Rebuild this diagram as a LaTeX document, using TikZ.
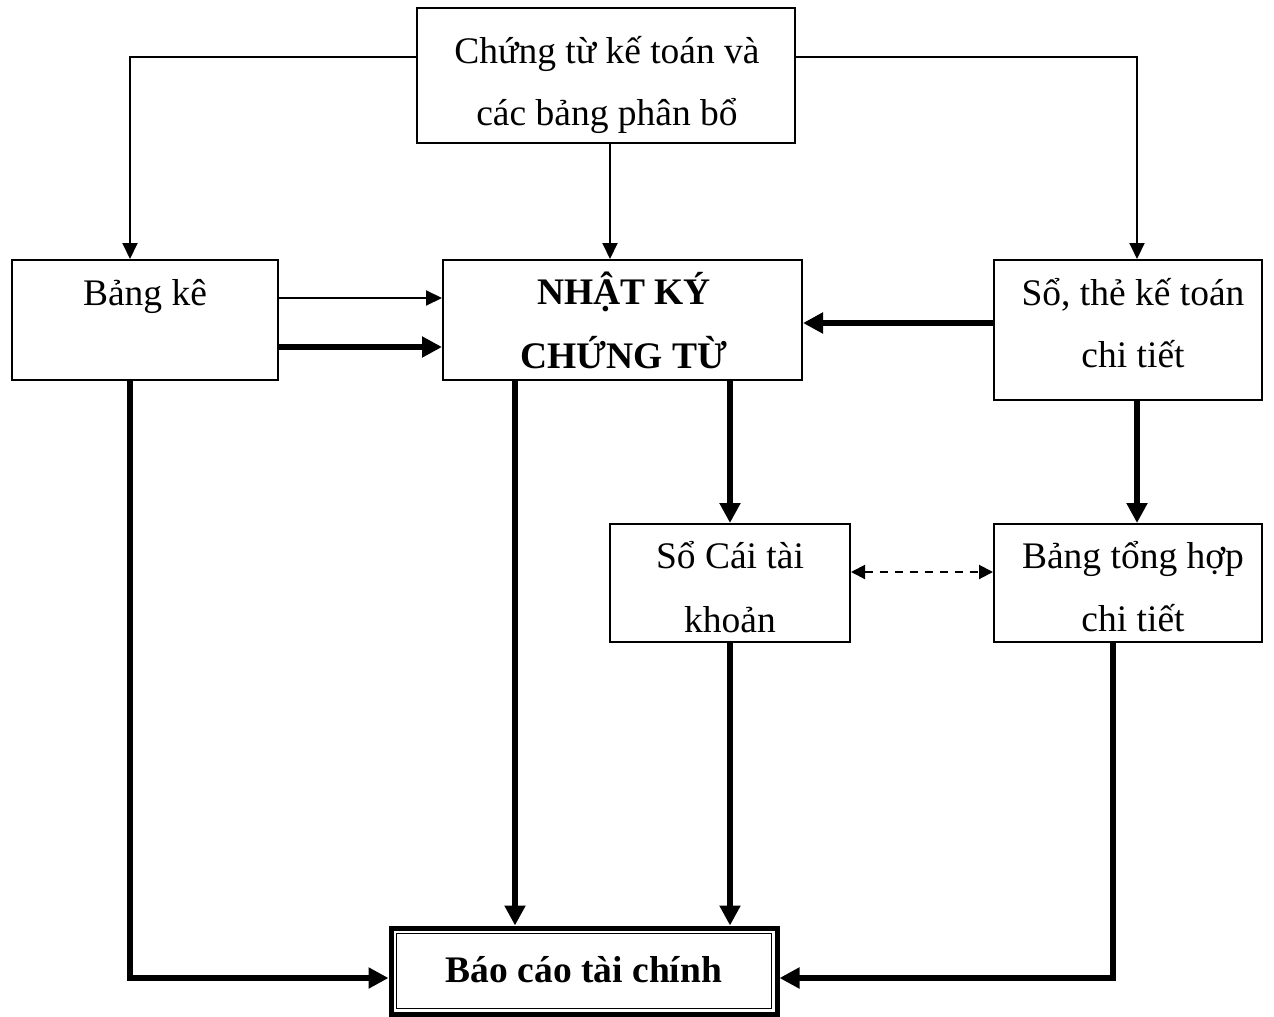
\documentclass[tikz,border=0pt]{standalone}
\usepackage{fontspec}
\setmainfont{Liberation Serif}
\usetikzlibrary{arrows.meta}
\begin{document}
\begin{tikzpicture}[x=1pt,y=-1pt,
 box/.style={draw, line width=2pt, inner sep=0pt},
 txt/.style={font=\fontsize{37.5}{42}\selectfont, anchor=base, inner sep=0pt},
 btxt/.style={font=\fontsize{37.5}{42}\selectfont\bfseries, anchor=base, inner sep=0pt},
 thinarrow/.style={line width=2pt, -{Triangle[length=16pt,width=15pt]}},
 thickarrow/.style={line width=6pt, -{Triangle[length=20pt,width=20pt]}},
 dasharrow/.style={line width=2pt, dash pattern=on 8pt off 7pt, {Triangle[length=14pt,width=14pt]}-{Triangle[length=14pt,width=14pt]}},
]
\useasboundingbox (0,0) rectangle (1274,1017);
% boxes
\node[box, minimum width=378pt, minimum height=135pt] (top) at (606,75.5) {};
\node[box, minimum width=266pt, minimum height=120pt] (bk) at (145,320) {};
\node[box, minimum width=359pt, minimum height=120pt] (nk) at (622.5,320) {};
\node[box, minimum width=268pt, minimum height=140pt] (st) at (1128,330) {};
\node[box, minimum width=240pt, minimum height=118pt] (sc) at (730,583) {};
\node[box, minimum width=268pt, minimum height=118pt] (bt) at (1128,583) {};
\node[draw, line width=5pt, inner sep=0pt, minimum width=386pt, minimum height=86pt] (bc) at (584,971) {};
\draw[line width=1.5pt] ([shift={(8,8)}]bc.north west) rectangle ([shift={(-8,-8)}]bc.south east);
% texts
\node[txt] (t1) at (607,63) {Chứng từ kế toán và};
\node[txt] (t2) at (607,125) {các bảng phân bổ};
\node[txt] (t3) at (145,305) {Bảng kê};
\node[btxt] (t4) at (624,304) {NHẬT KÝ};
\node[btxt] (t5) at (624,368) {CHỨNG TỪ};
\node[txt] (t6) at (1133,305) {Sổ, thẻ kế toán};
\node[txt] (t7) at (1133,367) {chi tiết};
\node[txt] (t8) at (730,568) {Sổ Cái tài};
\node[txt] (t9) at (730,632) {khoản};
\node[txt] (t10) at (1133,568) {Bảng tổng hợp};
\node[txt] (t11) at (1133,631) {chi tiết};
\node[btxt] (t12) at (584,982) {Báo cáo tài chính};
% connectors
\coordinate (c1) at (130,57);
\coordinate (c2) at (1137,57);
\coordinate (c3) at (130,978);
\coordinate (c4) at (1113,978);
\draw[thinarrow] (top.west |- c1) -| (bk.north -| c1);
\draw[thinarrow] (top.south -| 610,0) -- (nk.north -| 610,0);
\draw[thinarrow] (top.east |- c2) -| (st.north -| c2);
\draw[thinarrow] (bk.east |- 0,298) -- (nk.west |- 0,298);
\draw[thickarrow] (bk.east |- 0,347) -- (nk.west |- 0,347);
\draw[thickarrow] (st.west |- 0,323) -- (nk.east |- 0,323);
\draw[thickarrow] (nk.south -| sc.north) -- (sc.north);
\draw[thickarrow] (st.south -| c2) -- (bt.north -| c2);
\draw[dasharrow] (sc.east |- 0,572) -- (bt.west |- 0,572);
\draw[thickarrow, line join=miter] (bk.south -| c1) |- (bc.west |- c3);
\draw[thickarrow] (nk.south -| 515,0) -- (bc.north -| 515,0);
\draw[thickarrow] (sc.south) -- (bc.north -| sc.south);
\draw[thickarrow, line join=miter] (bt.south -| c4) |- (bc.east |- c4);
\end{tikzpicture}
\end{document}
